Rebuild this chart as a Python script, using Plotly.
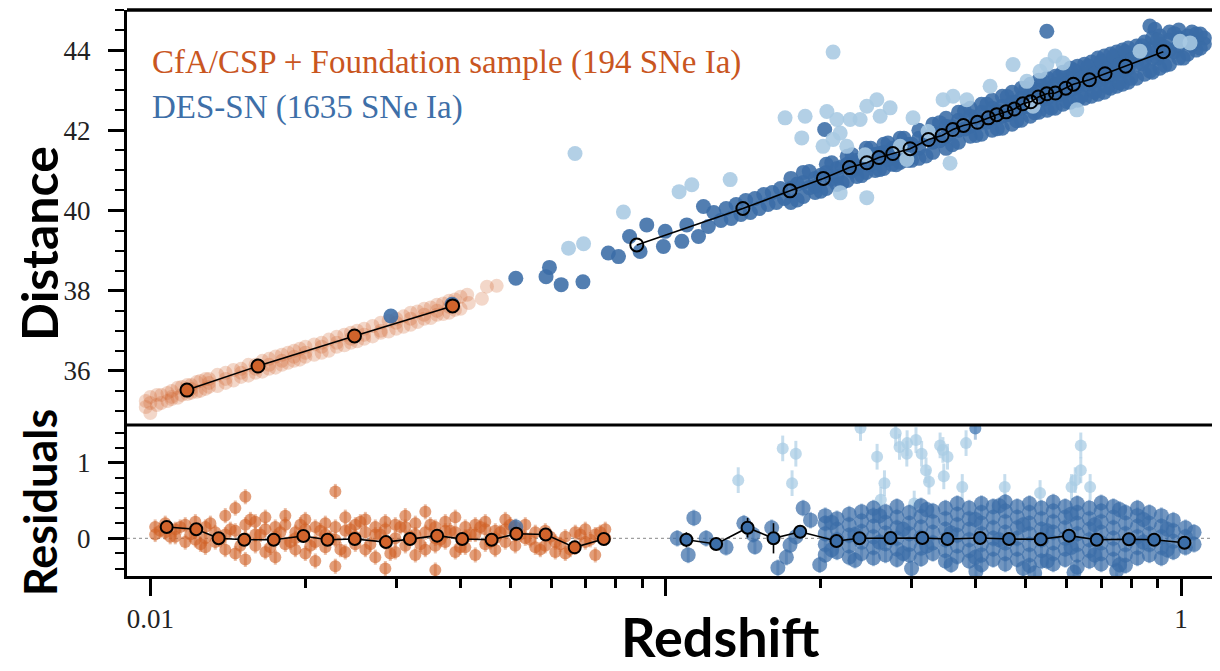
import plotly.graph_objects as go

# ---------------- DATA ----------------
# Top panel: CfA/CSP + Foundation (redshift, distance modulus)
cfa_top_z = [
    0.0098, 0.0098,
    0.0100, 0.0100, 0.0100,
    0.0105, 0.0105,
    0.0110, 0.0110, 0.0110,
    0.0115, 0.0115,
    0.0120, 0.0120, 0.0120,
    0.0125, 0.0125,
    0.0130, 0.0130, 0.0130,
    0.0140, 0.0140, 0.0140,
    0.0150, 0.0150, 0.0150,
    0.0160, 0.0160, 0.0160,
    0.0170, 0.0170, 0.0170,
    0.0180, 0.0180, 0.0180,
    0.0190, 0.0190, 0.0190,
    0.0200, 0.0200, 0.0200,
    0.0215, 0.0215, 0.0215,
    0.0230, 0.0230, 0.0230,
    0.0245, 0.0245, 0.0245,
    0.0260, 0.0260, 0.0260,
    0.0280, 0.0280, 0.0280,
    0.0300, 0.0300, 0.0300,
    0.0320, 0.0320, 0.0320,
    0.0340, 0.0340, 0.0340,
    0.0360, 0.0360, 0.0360,
    0.0380, 0.0380, 0.0380,
    0.0400, 0.0400,
    0.0412, 0.0415, 0.0440, 0.0450, 0.0470,
    0.0103, 0.0103, 0.0108, 0.0108, 0.0113, 0.0113, 0.0118, 0.0118,
    0.0123, 0.0123, 0.0128, 0.0128, 0.0135, 0.0135, 0.0145, 0.0145,
    0.0155, 0.0155, 0.0165, 0.0165, 0.0175, 0.0175, 0.0185, 0.0185,
    0.0195, 0.0195, 0.0208, 0.0208, 0.0222, 0.0222, 0.0238, 0.0238,
    0.0252, 0.0252, 0.0270, 0.0270, 0.0290, 0.0290, 0.0310, 0.0310,
    0.0330, 0.0330, 0.0350, 0.0350, 0.0370, 0.0370, 0.0390, 0.0390,
]
cfa_top_mu = [
    35.10, 35.25,
    34.95, 35.20, 35.35,
    35.20, 35.40,
    35.30, 35.50, 35.35,
    35.40, 35.60,
    35.45, 35.65, 35.55,
    35.50, 35.75,
    35.60, 35.80, 35.70,
    35.70, 35.95, 35.80,
    35.85, 36.05, 35.95,
    35.95, 36.15, 36.05,
    36.05, 36.30, 36.15,
    36.15, 36.40, 36.25,
    36.25, 36.50, 36.35,
    36.35, 36.60, 36.45,
    36.45, 36.70, 36.60,
    36.60, 36.85, 36.70,
    36.70, 36.95, 36.80,
    36.80, 37.05, 36.90,
    36.95, 37.20, 37.00,
    37.05, 37.30, 37.20,
    37.15, 37.45, 37.30,
    37.30, 37.55, 37.40,
    37.40, 37.65, 37.50,
    37.45, 37.75, 37.60,
    37.55, 37.85,
    37.90, 37.69, 37.80, 38.10, 38.12,
    35.15, 35.40, 35.45, 35.25, 35.33, 35.58, 35.65, 35.42,
    35.48, 35.72, 35.80, 35.55, 35.62, 35.90, 36.02, 35.76,
    35.88, 36.15, 36.25, 35.98, 36.08, 36.36, 36.45, 36.20,
    36.28, 36.55, 36.66, 36.40, 36.50, 36.78, 36.90, 36.64,
    36.74, 37.00, 37.12, 36.86, 36.98, 37.25, 37.36, 37.10,
    37.22, 37.48, 37.58, 37.32, 37.42, 37.68, 37.78, 37.52,
]

# Top panel: DES-SN (dark points)
des_top_z = [
    0.0293, 0.0385, 0.0512, 0.0586, 0.0595, 0.0627, 0.0691, 0.0774, 0.0810,
    0.0851, 0.0892, 0.0919, 0.0990, 0.0998, 0.1075, 0.1099, 0.1158, 0.1184,
    0.121, 0.124, 0.128, 0.131, 0.134, 0.137, 0.140, 0.143, 0.146,
    0.149, 0.152, 0.155, 0.158, 0.161, 0.164, 0.167, 0.170,
    0.2035, 0.549, 0.870, 0.890,
    0.175, 0.175, 0.175,
    0.185, 0.185, 0.185,
    0.195, 0.195, 0.195,
    0.205, 0.205, 0.205,
    0.215, 0.215, 0.215,
    0.225, 0.225, 0.225,
    0.235, 0.235, 0.235,
    0.245, 0.245, 0.245,
    0.255, 0.255, 0.255,
    0.265, 0.265, 0.265,
    0.275, 0.275, 0.275,
    0.285, 0.285, 0.285,
    0.295, 0.295, 0.295,
    0.31, 0.31, 0.31, 0.31,
    0.33, 0.33, 0.33, 0.33,
    0.35, 0.35, 0.35, 0.35,
    0.37, 0.37, 0.37, 0.37,
    0.39, 0.39, 0.39, 0.39,
    0.41, 0.41, 0.41, 0.41,
    0.43, 0.43, 0.43, 0.43,
    0.45, 0.45, 0.45, 0.45,
    0.47, 0.47, 0.47, 0.47,
    0.49, 0.49, 0.49, 0.49,
    0.51, 0.51, 0.51, 0.51,
    0.53, 0.53, 0.53, 0.53,
    0.55, 0.55, 0.55, 0.55,
    0.57, 0.57, 0.57, 0.57,
    0.59, 0.59, 0.59, 0.59,
    0.61, 0.61, 0.61, 0.61,
    0.63, 0.63, 0.63, 0.63,
    0.65, 0.65, 0.65, 0.65,
    0.67, 0.67, 0.67, 0.67,
    0.69, 0.69, 0.69, 0.69,
    0.71, 0.71, 0.71, 0.71,
    0.73, 0.73, 0.73, 0.73,
    0.75, 0.75, 0.75, 0.75,
    0.77, 0.77, 0.77, 0.77,
    0.79, 0.79, 0.79, 0.79,
    0.82, 0.82, 0.82, 0.82,
    0.85, 0.85, 0.85, 0.85,
    0.88, 0.88, 0.88, 0.88,
    0.91, 0.91, 0.91, 0.91,
    0.95, 0.95, 0.95, 0.95,
    0.99, 0.99, 0.99, 0.99,
    1.03, 1.03, 1.03,
    1.07, 1.07, 1.07,
    1.11, 1.11,
    0.18, 0.18, 0.19, 0.19, 0.20, 0.20, 0.21, 0.21, 0.22, 0.22,
    0.23, 0.23, 0.24, 0.24, 0.25, 0.25, 0.26, 0.26, 0.27, 0.27,
    0.28, 0.28, 0.29, 0.29, 0.30, 0.30,
    0.32, 0.32, 0.34, 0.34, 0.36, 0.36, 0.38, 0.38, 0.40, 0.40,
    0.42, 0.42, 0.44, 0.44, 0.46, 0.46, 0.48, 0.48, 0.50, 0.50,
    0.52, 0.52, 0.54, 0.54, 0.56, 0.56, 0.58, 0.58, 0.60, 0.60,
    0.62, 0.62, 0.64, 0.64, 0.66, 0.66, 0.68, 0.68, 0.70, 0.70,
    0.72, 0.72, 0.74, 0.74, 0.76, 0.76, 0.78, 0.78, 0.80, 0.80,
    0.84, 0.84, 0.87, 0.87, 0.90, 0.90, 0.93, 0.93, 0.97, 0.97,
    1.01, 1.01, 1.05, 1.05, 1.09, 1.09,
]
des_top_mu = [
    37.37, 37.66, 38.31, 38.35, 38.58, 38.15, 38.22, 38.94, 38.85,
    39.35, 38.98, 39.64, 39.10, 39.48, 39.23, 39.64, 39.35, 40.10,
    39.60, 39.95, 39.75, 40.05, 39.80, 40.15, 39.90, 40.25, 39.95,
    40.30, 40.05, 40.40, 40.15, 40.45, 40.20, 40.55, 40.30,
    42.02, 44.47, 44.60, 44.52,
    40.20, 40.55, 40.80,
    40.35, 40.70, 40.95,
    40.45, 40.80, 40.60,
    40.55, 40.95, 41.15,
    40.65, 41.05, 40.85,
    40.75, 41.15, 41.35,
    40.85, 41.25, 41.05,
    40.95, 41.35, 41.55,
    41.00, 41.40, 41.20,
    41.05, 41.45, 41.65,
    41.15, 41.55, 41.30,
    41.20, 41.60, 41.80,
    41.25, 41.65, 41.45,
    41.30, 41.55, 41.80, 42.00,
    41.45, 41.70, 41.95, 42.15,
    41.55, 41.85, 42.10, 42.30,
    41.70, 42.00, 42.25, 42.45,
    41.85, 42.10, 42.35, 42.55,
    41.90, 42.20, 42.45, 42.65,
    42.00, 42.30, 42.55, 42.75,
    42.05, 42.35, 42.60, 42.85,
    42.15, 42.45, 42.70, 42.95,
    42.25, 42.55, 42.80, 43.05,
    42.35, 42.65, 42.90, 43.15,
    42.45, 42.75, 43.00, 43.25,
    42.50, 42.80, 43.05, 43.30,
    42.55, 42.90, 43.15, 43.35,
    42.65, 42.95, 43.25, 43.45,
    42.70, 43.00, 43.30, 43.55,
    42.75, 43.10, 43.35, 43.60,
    42.80, 43.15, 43.40, 43.65,
    42.85, 43.20, 43.45, 43.70,
    42.90, 43.25, 43.55, 43.80,
    42.95, 43.30, 43.60, 43.85,
    43.05, 43.40, 43.65, 43.90,
    43.10, 43.45, 43.70, 43.95,
    43.15, 43.50, 43.75, 44.00,
    43.20, 43.55, 43.80, 44.05,
    43.30, 43.65, 43.90, 44.10,
    43.40, 43.75, 44.00, 44.20,
    43.45, 43.80, 44.05, 44.30,
    43.55, 43.90, 44.15, 44.35,
    43.65, 44.00, 44.25, 44.45,
    43.80, 44.10, 44.30, 44.50,
    43.90, 44.20, 44.35,
    44.00, 44.25, 44.40,
    44.15, 44.30,
    40.26, 40.66, 40.97, 40.57, 40.48, 40.88, 41.19, 40.79, 40.69, 41.09,
    41.39, 40.99, 40.87, 41.27, 41.55, 41.15, 41.02, 41.42, 41.68, 41.28,
    41.14, 41.54, 41.80, 41.40, 41.25, 41.65,
    41.36, 41.81, 42.19, 41.74, 41.64, 42.09, 42.48, 42.03, 41.87, 42.32,
    42.65, 42.20, 42.04, 42.49, 42.84, 42.39, 42.24, 42.69, 43.04, 42.59,
    42.44, 42.89, 43.21, 42.76, 42.56, 43.01, 43.34, 42.89, 42.72, 43.17,
    43.49, 43.04, 42.85, 43.30, 43.60, 43.15, 42.96, 43.41, 43.72, 43.27,
    43.08, 43.53, 43.84, 43.39, 43.19, 43.64, 43.95, 43.50, 43.30, 43.75,
    44.11, 43.66, 43.48, 43.93, 44.25, 43.80, 43.62, 44.07, 44.41, 43.96,
    43.80, 44.25, 44.45, 44.13, 44.05, 44.40,
]

# Top panel: DES-SN (light points)
des_top_light_z = [
    0.0648, 0.0667, 0.0693, 0.0828, 0.1062, 0.1124, 0.1334, 0.1705, 0.1837,
    0.1865, 0.2020, 0.2055, 0.2113, 0.2113, 0.2149, 0.2181, 0.2181, 0.2246,
    0.2280, 0.2384, 0.2438, 0.2456, 0.2456, 0.2569, 0.2607, 0.2726, 0.2851,
    0.2937, 0.3020, 0.3230, 0.3454, 0.3563, 0.3612, 0.3840, 0.4261, 0.4721,
    0.5020, 0.5163, 0.5327, 0.5489, 0.5696, 0.5904, 0.6277, 0.8325, 0.9956,
    1.041,
]
des_top_light_mu = [
    39.06, 41.42, 39.17, 39.96, 40.47, 40.64, 40.77, 42.31, 41.81,
    42.35, 41.60, 42.47, 43.95, 41.77, 42.27, 41.93, 40.44, 41.60,
    42.27, 42.27, 41.39, 42.60, 40.32, 42.76, 42.35, 42.56, 41.60,
    41.27, 42.31, 41.97, 42.76, 41.18, 42.85, 42.76, 43.10, 43.64,
    43.22, 42.60, 43.47, 43.64, 43.85, 43.68, 42.51, 43.97, 44.22,
    44.18,
]

# Top panel binned means
cfa_bin_z = [0.01178, 0.01618, 0.0249, 0.0386]
cfa_bin_mu = [35.52, 36.12, 36.87, 37.62]
des_bin_z = [0.0879, 0.1412, 0.1743, 0.2023, 0.2273, 0.2457, 0.2593, 0.2759, 0.2980,
             0.3235, 0.3439, 0.3607, 0.3782, 0.4026, 0.4228, 0.4390, 0.4576, 0.4749,
             0.4931, 0.5110, 0.5287, 0.5489, 0.5704, 0.5975, 0.6182, 0.6640, 0.7121,
             0.7809, 0.9240]
des_bin_mu = [39.14, 40.05, 40.49, 40.80, 41.07, 41.19, 41.32, 41.42, 41.54,
              41.77, 41.87, 42.02, 42.12, 42.20, 42.31, 42.39, 42.46, 42.53,
              42.66, 42.71, 42.83, 42.91, 42.93, 43.05, 43.15, 43.26, 43.41,
              43.60, 43.96]

# Bottom panel: CfA/CSP + Foundation residuals
cfa_res_z = [
    0.01022, 0.01022,
    0.01069, 0.01069,
    0.01118, 0.01118,
    0.01169, 0.01169,
    0.01223, 0.01223, 0.01223,
    0.01279, 0.01279, 0.01279,
    0.01337, 0.01337,
    0.01398, 0.01398, 0.01398,
    0.01462, 0.01462, 0.01462,
    0.01529, 0.01529, 0.01529, 0.01529,
    0.01599, 0.01599, 0.01599,
    0.01672, 0.01672, 0.01672,
    0.01748, 0.01748, 0.01748,
    0.01828, 0.01828, 0.01828,
    0.01912, 0.01912, 0.01912,
    0.01999, 0.01999, 0.01999,
    0.02090, 0.02090, 0.02090,
    0.02186, 0.02186, 0.02186,
    0.02286, 0.02286, 0.02286, 0.02286,
    0.02390, 0.02390, 0.02390,
    0.02499, 0.02499, 0.02499,
    0.02614, 0.02614, 0.02614,
    0.02733, 0.02733, 0.02733,
    0.02858, 0.02858, 0.02858, 0.02858,
    0.02988, 0.02988, 0.02988,
    0.03125, 0.03125, 0.03125,
    0.03268, 0.03268, 0.03268,
    0.03417, 0.03417, 0.03417,
    0.03573, 0.03573, 0.03573, 0.03573,
    0.03736, 0.03736, 0.03736,
    0.03907, 0.03907, 0.03907,
    0.04085, 0.04085, 0.04085,
    0.04272, 0.04272, 0.04272,
    0.04467, 0.04467, 0.04467,
    0.04671, 0.04671, 0.04671,
    0.04885, 0.04885, 0.04885,
    0.05108, 0.05108, 0.05108,
    0.05341, 0.05341,
    0.05585, 0.05585,
    0.05840, 0.05840,
    0.06107, 0.06107,
    0.06386, 0.06386,
    0.06678, 0.06678,
    0.06983, 0.06983,
    0.07302, 0.07302,
    0.07636, 0.07636,
    0.01045, 0.01093, 0.01143, 0.01196, 0.01251, 0.01308, 0.01367, 0.01430, 0.01495,
    0.01564, 0.01635, 0.01710, 0.01788, 0.01870, 0.01955, 0.02044, 0.02138, 0.02235,
    0.02338, 0.02444, 0.02556, 0.02673, 0.02795, 0.02922, 0.03056, 0.03196, 0.03342,
    0.03494, 0.03654, 0.03821, 0.03995, 0.04178, 0.04369, 0.04568, 0.04777, 0.04995,
    0.05223, 0.05462, 0.05711, 0.05972, 0.06245, 0.06530, 0.06829, 0.07141, 0.07468,
]
cfa_res = [
    0.15, 0.05,
    0.20, 0.08,
    0.02, 0.12,
    0.18, -0.05,
    0.10, 0.22, -0.02,
    0.00, -0.12, 0.15,
    0.08, -0.05,
    0.30, -0.15, 0.05,
    0.40, 0.10, -0.20,
    0.55, 0.00, -0.28, 0.18,
    0.22, -0.10, 0.05,
    -0.18, 0.12, 0.28,
    0.02, -0.25, 0.15,
    0.18, -0.08, 0.30,
    -0.15, 0.08, 0.00,
    0.12, -0.20, 0.25,
    -0.05, 0.15, -0.30,
    0.20, -0.12, 0.05,
    0.62, -0.02, -0.37, 0.15,
    0.10, -0.18, 0.28,
    -0.08, 0.18, 0.02,
    0.25, -0.15, 0.08,
    -0.25, 0.05, 0.15,
    -0.40, 0.12, -0.05, 0.22,
    0.00, -0.18, 0.18,
    0.15, -0.10, 0.30,
    -0.22, 0.05, 0.20,
    0.08, -0.15, 0.35,
    -0.42, 0.00, 0.15, -0.10,
    0.22, -0.05, 0.10,
    -0.18, 0.08, 0.28,
    0.02, -0.12, 0.15,
    0.18, -0.22, 0.05,
    -0.08, 0.12, 0.22,
    0.10, -0.15, 0.00,
    0.25, -0.05, 0.12,
    0.05, 0.15, -0.10,
    0.18, 0.00,
    0.08, -0.12,
    -0.10, 0.10,
    -0.18, -0.05,
    -0.20, 0.02,
    -0.12, 0.08,
    -0.05, 0.12,
    0.05, -0.22,
    0.00, 0.12,
    0.10, 0.02, 0.15, 0.05, -0.08, 0.20, -0.02, 0.12, -0.10,
    0.25, 0.05, -0.12, 0.08, -0.05, 0.18, -0.10, 0.10, 0.00,
    -0.15, 0.12, 0.22, -0.08, 0.05, -0.20, 0.15, 0.02, -0.08,
    0.18, -0.02, 0.10, -0.12, 0.05, 0.15, -0.05, 0.08, 0.18,
    0.05, -0.02, -0.15, 0.02, -0.08, -0.15, 0.05, -0.02, 0.08,
]
cfa_res_err = 0.10

# Bottom panel: DES-SN residuals (dark points)
des_res_z = [
    0.0512, 0.1053, 0.1106, 0.1134, 0.1198, 0.1310, 0.1418, 0.1478, 0.1490,
    0.1606, 0.1651, 0.1715, 0.1743, 0.1789, 0.1848, 0.1910, 0.1990,
    0.30, 0.40, 0.52, 0.62, 0.75,
    0.204, 0.204, 0.204, 0.204, 0.204,
    0.215, 0.215, 0.215, 0.215,
    0.227, 0.227, 0.227, 0.227, 0.227,
    0.240, 0.240, 0.240, 0.240, 0.240,
    0.253, 0.253, 0.253, 0.253, 0.253, 0.253,
    0.267, 0.267, 0.267, 0.267, 0.267,
    0.281, 0.281, 0.281, 0.281, 0.281, 0.281,
    0.297, 0.297, 0.297, 0.297, 0.297,
    0.313, 0.313, 0.313, 0.313, 0.313, 0.313,
    0.330, 0.330, 0.330, 0.330, 0.330,
    0.349, 0.349, 0.349, 0.349, 0.349, 0.349,
    0.368, 0.368, 0.368, 0.368, 0.368, 0.368,
    0.388, 0.388, 0.388, 0.388, 0.388, 0.388,
    0.410, 0.410, 0.410, 0.410, 0.410, 0.410, 0.410,
    0.432, 0.432, 0.432, 0.432, 0.432, 0.432,
    0.456, 0.456, 0.456, 0.456, 0.456, 0.456, 0.456,
    0.481, 0.481, 0.481, 0.481, 0.481, 0.481,
    0.508, 0.508, 0.508, 0.508, 0.508, 0.508, 0.508,
    0.536, 0.536, 0.536, 0.536, 0.536, 0.536,
    0.565, 0.565, 0.565, 0.565, 0.565, 0.565, 0.565,
    0.596, 0.596, 0.596, 0.596, 0.596, 0.596,
    0.629, 0.629, 0.629, 0.629, 0.629, 0.629, 0.629,
    0.664, 0.664, 0.664, 0.664, 0.664, 0.664,
    0.700, 0.700, 0.700, 0.700, 0.700, 0.700, 0.700,
    0.739, 0.739, 0.739, 0.739, 0.739, 0.739,
    0.780, 0.780, 0.780, 0.780, 0.780, 0.780,
    0.823, 0.823, 0.823, 0.823, 0.823, 0.823,
    0.868, 0.868, 0.868, 0.868, 0.868,
    0.916, 0.916, 0.916, 0.916, 0.916,
    0.966, 0.966, 0.966, 0.966,
    1.020, 1.020, 1.020,
    1.060, 1.060,
    0.210, 0.210, 0.233, 0.233, 0.260, 0.260, 0.289, 0.289, 0.321, 0.321,
    0.358, 0.358, 0.399, 0.399, 0.444, 0.444, 0.494, 0.494, 0.550, 0.550,
    0.612, 0.612, 0.680, 0.680, 0.760, 0.760, 0.845, 0.845, 0.940, 0.940,
]
des_res = [
    0.15, 0.00, -0.22, 0.27, 0.00, -0.12, 0.20, 0.05, -0.11,
    0.14, -0.39, -0.25, -0.09, 0.02, 0.40, 0.24, -0.35,
    -0.40, -0.44, -0.46, -0.45, -0.43,
    -0.22, -0.08, 0.06, 0.20, 0.30,
    -0.18, -0.02, 0.12, 0.26,
    -0.25, -0.10, 0.04, 0.18, 0.32,
    -0.20, -0.05, 0.09, 0.23, 0.35,
    -0.26, -0.12, 0.02, 0.16, 0.30, 0.40,
    -0.22, -0.07, 0.07, 0.21, 0.35,
    -0.28, -0.14, 0.00, 0.14, 0.28, 0.42,
    -0.22, -0.08, 0.06, 0.20, 0.34,
    -0.27, -0.13, 0.01, 0.15, 0.29, 0.43,
    -0.20, -0.06, 0.08, 0.22, 0.36,
    -0.30, -0.16, -0.02, 0.12, 0.26, 0.40,
    -0.24, -0.10, 0.04, 0.18, 0.32, 0.46,
    -0.30, -0.16, -0.02, 0.12, 0.26, 0.40,
    -0.35, -0.22, -0.08, 0.06, 0.20, 0.34, 0.46,
    -0.28, -0.14, 0.00, 0.14, 0.28, 0.42,
    -0.34, -0.20, -0.06, 0.08, 0.22, 0.36, 0.48,
    -0.28, -0.14, 0.00, 0.14, 0.28, 0.42,
    -0.36, -0.22, -0.08, 0.06, 0.20, 0.34, 0.46,
    -0.30, -0.16, -0.02, 0.12, 0.26, 0.40,
    -0.34, -0.20, -0.06, 0.08, 0.22, 0.36, 0.48,
    -0.28, -0.14, 0.00, 0.14, 0.28, 0.42,
    -0.38, -0.22, -0.08, 0.06, 0.20, 0.34, 0.46,
    -0.30, -0.16, -0.02, 0.12, 0.26, 0.40,
    -0.34, -0.20, -0.06, 0.08, 0.22, 0.36, 0.47,
    -0.28, -0.14, 0.00, 0.14, 0.28, 0.42,
    -0.36, -0.22, -0.08, 0.06, 0.20, 0.34,
    -0.26, -0.12, 0.02, 0.16, 0.30, 0.40,
    -0.22, -0.08, 0.06, 0.20, 0.34,
    -0.26, -0.12, 0.02, 0.16, 0.30,
    -0.18, -0.04, 0.10, 0.24,
    -0.12, 0.02, 0.14,
    -0.08, 0.08,
    -0.15, 0.21, 0.05, -0.29, 0.30, -0.05, -0.20, 0.12, 0.38, -0.10,
    -0.35, 0.07, 0.25, -0.25, -0.02, 0.43, -0.40, 0.18, 0.10, -0.30,
    0.32, -0.12, -0.22, 0.18, 0.38, -0.35, -0.05, 0.25, 0.12, -0.15,
]
des_res_err = 0.11

# Bottom panel: DES-SN residuals (light points)
des_res_light_z = [
    0.1383, 0.1687, 0.1759, 0.1789, 0.2388, 0.2572, 0.2615, 0.2658, 0.2795,
    0.2843, 0.2937, 0.2941, 0.3036, 0.3060, 0.3138, 0.3200, 0.3243, 0.3408,
    0.3451, 0.3465, 0.3523, 0.3763, 0.3827, 0.4550, 0.5327, 0.6131, 0.6234,
    0.6390, 0.6390, 0.6662,
]
des_res_light = [
    0.77, 1.19, 0.73, 1.12, 1.46, 1.08, 0.51, 0.73, 1.39,
    1.21, 1.12, 1.26, 0.46, 1.30, 1.12, 0.90, 0.75, 1.23,
    1.17, 0.82, 1.08, 0.68, 1.26, 0.68, 0.60, 0.68, 0.77,
    1.23, 0.90, 0.68,
]
des_res_light_err = 0.17
des_res_mid_z = [0.3989]
des_res_mid = [1.455]

# Bottom panel binned means
cfa_res_bin_z = [0.01076, 0.01228, 0.01357, 0.01522, 0.01736, 0.01982, 0.02207, 0.02493,
                 0.02866, 0.03190, 0.03602, 0.04029, 0.04595, 0.05131, 0.05851, 0.06660,
                 0.07586]
cfa_res_bin = [0.15, 0.12, 0.00, -0.02, -0.02, 0.03, -0.02, -0.01,
               -0.05, -0.01, 0.035, -0.01, -0.02, 0.06, 0.05, -0.12,
               -0.01]
des_res_bin_z = [0.1097, 0.1253, 0.1442, 0.1619, 0.1824, 0.2145, 0.2377, 0.2731, 0.3148,
                 0.3523, 0.4074, 0.4637, 0.5342, 0.6061, 0.6862, 0.7923, 0.8867, 1.0153]
des_res_bin = [-0.02, -0.075, 0.14, 0.00, 0.087, -0.036, 0.00, 0.004, 0.004,
               -0.01, 0.004, -0.01, -0.013, 0.035, -0.02, -0.013, -0.02, -0.058]
des_res_bin_err = [0.10, 0.0, 0.13, 0.20, 0.0, 0.0, 0.0, 0.0, 0.0,
                   0.0, 0.0, 0.0, 0.0, 0.0, 0.0, 0.0, 0.0, 0.0]

legend_cfa = "CfA/CSP + Foundation sample (194 SNe Ia)"
legend_des = "DES-SN (1635 SNe Ia)"

# ---------------- STYLE ----------------
ORANGE = "#C9561F"
ORANGE_PT = "rgba(210,100,45,0.26)"
ORANGE_RES = "rgba(208,98,40,0.62)"
ORANGE_BAR = "rgba(210,110,55,0.45)"
BLUE = "#3A6CA6"
BLUE_RES = "rgba(60,110,168,0.72)"
BLUE_BAR = "rgba(80,130,185,0.45)"
LIGHT = "rgba(168,202,226,0.88)"
LIGHT_RES = "rgba(170,204,228,0.75)"
LIGHT_BAR = "rgba(160,198,225,0.6)"
SERIF = "Liberation Serif"

fig = go.Figure()

# ----- top panel -----
fig.add_trace(go.Scatter(x=cfa_top_z, y=cfa_top_mu, mode="markers", xaxis="x", yaxis="y",
                         marker=dict(size=14, color=ORANGE_PT, line=dict(width=0)),
                         showlegend=False, hoverinfo="skip"))
fig.add_trace(go.Scatter(x=des_top_z, y=des_top_mu, mode="markers", xaxis="x", yaxis="y",
                         marker=dict(size=15, color=BLUE, opacity=0.88, line=dict(width=0)),
                         showlegend=False, hoverinfo="skip"))
fig.add_trace(go.Scatter(x=des_top_light_z, y=des_top_light_mu, mode="markers", xaxis="x", yaxis="y",
                         marker=dict(size=15, color=LIGHT, line=dict(width=0)),
                         showlegend=False, hoverinfo="skip"))
fig.add_trace(go.Scatter(x=cfa_bin_z, y=cfa_bin_mu, mode="lines+markers", xaxis="x", yaxis="y",
                         line=dict(color="black", width=1.6),
                         marker=dict(size=13, color="#D0632B", line=dict(color="black", width=2)),
                         showlegend=False, hoverinfo="skip"))
fig.add_trace(go.Scatter(x=des_bin_z, y=des_bin_mu, mode="lines+markers", xaxis="x", yaxis="y",
                         line=dict(color="black", width=1.6),
                         marker=dict(size=13, color="rgba(255,255,255,0)", line=dict(color="black", width=2)),
                         showlegend=False, hoverinfo="skip"))

# ----- bottom panel -----
fig.add_trace(go.Scatter(x=cfa_res_z, y=cfa_res, mode="markers", xaxis="x2", yaxis="y2",
                         error_y=dict(type="constant", value=cfa_res_err, color=ORANGE_BAR, thickness=3, width=0),
                         marker=dict(size=12, color=ORANGE_RES, line=dict(width=0)),
                         showlegend=False, hoverinfo="skip"))
fig.add_trace(go.Scatter(x=des_res_light_z, y=des_res_light, mode="markers", xaxis="x2", yaxis="y2",
                         error_y=dict(type="constant", value=des_res_light_err, color=LIGHT_BAR, thickness=3, width=0),
                         marker=dict(size=12, color=LIGHT_RES, line=dict(width=0)),
                         showlegend=False, hoverinfo="skip"))
fig.add_trace(go.Scatter(x=des_res_z, y=des_res, mode="markers", xaxis="x2", yaxis="y2",
                         error_y=dict(type="constant", value=des_res_err, color=BLUE_BAR, thickness=3, width=0),
                         marker=dict(size=15, color=BLUE_RES, line=dict(width=0)),
                         showlegend=False, hoverinfo="skip"))
fig.add_trace(go.Scatter(x=des_res_mid_z, y=des_res_mid, mode="markers", xaxis="x2", yaxis="y2",
                         error_y=dict(type="constant", value=0.15, color=BLUE_BAR, thickness=3, width=0),
                         marker=dict(size=12, color="rgba(80,130,185,0.8)", line=dict(width=0)),
                         showlegend=False, hoverinfo="skip"))
fig.add_trace(go.Scatter(x=cfa_res_bin_z, y=cfa_res_bin, mode="lines+markers", xaxis="x2", yaxis="y2",
                         line=dict(color="black", width=1.6),
                         marker=dict(size=12, color="#D2642C", line=dict(color="black", width=2)),
                         showlegend=False, hoverinfo="skip"))
fig.add_trace(go.Scatter(x=des_res_bin_z, y=des_res_bin, mode="lines+markers", xaxis="x2", yaxis="y2",
                         error_y=dict(type="data", array=des_res_bin_err, color="black", thickness=1.6, width=0),
                         line=dict(color="black", width=1.6),
                         marker=dict(size=12, color="#3C6EA8", line=dict(color="black", width=2)),
                         showlegend=False, hoverinfo="skip"))

XR = [-2.0452, 0.0698]
SPLIT = 0.2668
tickfont = dict(family=SERIF, size=27, color="#222")
minor_x = [0.02, 0.03, 0.04, 0.05, 0.06, 0.07, 0.08, 0.09,
           0.2, 0.3, 0.4, 0.5, 0.6, 0.7, 0.8, 0.9]

# page body has an 8px default margin: figure is sized/offset to compensate
fig.update_layout(
    width=1212, height=663,
    margin=dict(l=119, r=3, t=2, b=95),
    paper_bgcolor="white", plot_bgcolor="white",
    xaxis=dict(domain=[0, 1], anchor="y", type="log", range=XR, matches="x2",
               showticklabels=False, ticks="", showline=False, showgrid=False, zeroline=False),
    yaxis=dict(domain=[SPLIT, 1], anchor="x", range=[34.65, 45.0],
               tickvals=[36, 38, 40, 42, 44], ticks="outside", ticklen=16, tickwidth=2.5,
               tickcolor="black", showline=True, linewidth=3, linecolor="black",
               showgrid=False, zeroline=False, tickfont=tickfont, ticklabelstandoff=12,
               minor=dict(dtick=0.5, tick0=34, ticks="outside", ticklen=9, tickwidth=2,
                          tickcolor="black", showgrid=False)),
    xaxis2=dict(domain=[0, 1], anchor="y2", type="log", range=XR,
                tickvals=[0.01, 0.1, 1], ticktext=["0.01", "", "1"],
                ticks="outside", ticklen=17, tickwidth=3, tickcolor="black",
                showline=True, linewidth=3, linecolor="black", showgrid=False, zeroline=False,
                tickfont=tickfont, ticklabelstandoff=0,
                minor=dict(tickmode="array", tickvals=minor_x, ticks="outside", ticklen=9,
                           tickwidth=2.5, tickcolor="black", showgrid=False)),
    yaxis2=dict(domain=[0, SPLIT], anchor="x2", range=[-0.499, 1.5],
                tickvals=[0, 1], ticks="outside", ticklen=16, tickwidth=2.5, tickcolor="black",
                showline=True, linewidth=3, linecolor="black", showgrid=False, zeroline=False,
                tickfont=tickfont, ticklabelstandoff=12,
                minor=dict(dtick=0.2, tick0=0, ticks="outside", ticklen=9, tickwidth=2,
                           tickcolor="black", showgrid=False)),
    shapes=[
        dict(type="line", xref="x2 domain", yref="y2", x0=0, x1=1, y0=0, y1=0,
             line=dict(color="#888", width=1, dash="dot"), layer="below"),
        dict(type="line", xref="paper", yref="paper", x0=0, x1=1, y0=1, y1=1,
             line=dict(color="black", width=3.5)),
        dict(type="line", xref="paper", yref="paper", x0=0, x1=1, y0=SPLIT, y1=SPLIT,
             line=dict(color="black", width=3)),
        dict(type="line", xref="paper", yref="paper", x0=1, x1=1, y0=SPLIT, y1=1,
             line=dict(color="#999", width=1)),
    ],
    annotations=[
        dict(text=legend_cfa, xref="paper", yref="paper", x=0.0211, y=0.9081,
             xanchor="left", yanchor="middle", showarrow=False,
             font=dict(family=SERIF, size=33, color=ORANGE)),
        dict(text=legend_des, xref="paper", yref="paper", x=0.0211, y=0.8269,
             xanchor="left", yanchor="middle", showarrow=False,
             font=dict(family=SERIF, size=33, color="#3E6FA8")),
        dict(text="<b>Distance</b>", xref="paper", yref="paper", x=-0.0808, y=0.5883,
             xanchor="center", yanchor="middle", textangle=-90, showarrow=False,
             font=dict(family="Lato", size=50, color="black")),
        dict(text="<b>Residuals</b>", xref="paper", yref="paper", x=-0.0797, y=0.129,
             xanchor="center", yanchor="middle", textangle=-90, showarrow=False,
             font=dict(family="Lato", size=45, color="black")),
        dict(text="<b>Redshift</b>", xref="paper", yref="paper", x=0.5445, y=-0.1678,
             xanchor="center", yanchor="bottom", showarrow=False,
             font=dict(family="Lato", size=54, color="black")),
    ],
)

fig.write_html("out.html")
